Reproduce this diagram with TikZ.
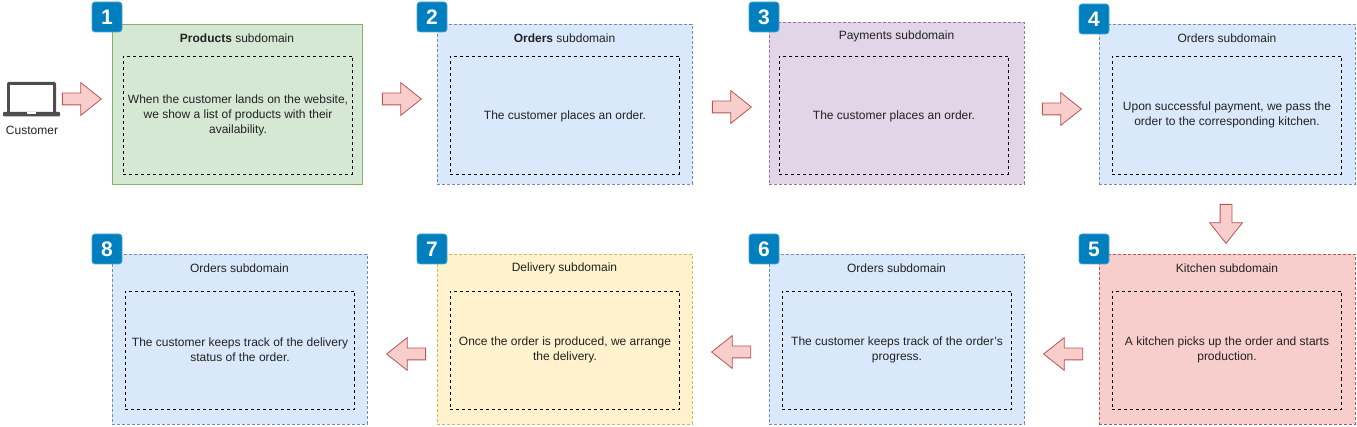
\documentclass[tikz,border=0pt]{standalone}
\usepackage{fontspec}
\setmainfont{Liberation Sans}
\usetikzlibrary{shapes.arrows}

\definecolor{greenfill}{HTML}{D5E8D4}
\definecolor{greenline}{HTML}{82B366}
\definecolor{bluefill}{HTML}{DAE8FC}
\definecolor{blueline}{HTML}{6C8EBF}
\definecolor{purplefill}{HTML}{E1D5E7}
\definecolor{purpleline}{HTML}{9673A6}
\definecolor{yellowfill}{HTML}{FFF2CC}
\definecolor{yellowline}{HTML}{D6B656}
\definecolor{redfill}{HTML}{F8CECC}
\definecolor{redline}{HTML}{B85450}
\definecolor{badgefill}{HTML}{007FBF}
\definecolor{badgeline}{HTML}{4FA6D3}
\definecolor{laptopgray}{HTML}{4D4D4D}
\definecolor{textgray}{HTML}{222222}

\begin{document}
\begin{tikzpicture}[x=1pt,y=-1pt,font=\fontsize{12}{15}\selectfont,text=textgray]
	\tikzset{outerbox/.style={draw,anchor=north west,inner sep=0pt,line width=0.8pt,dash pattern=on 3pt off 2pt}}
	\tikzset{greenbox/.style={outerbox,fill=greenfill,draw=greenline,solid}}
	\tikzset{bluebox/.style={outerbox,fill=bluefill,draw=blueline}}
	\tikzset{purplebox/.style={outerbox,fill=purplefill,draw=purpleline}}
	\tikzset{yellowbox/.style={outerbox,fill=yellowfill,draw=yellowline}}
	\tikzset{redbox/.style={outerbox,fill=redfill,draw=redline}}
	\tikzset{innerbox/.style={draw=black,align=center,inner sep=0pt,line width=0.9pt,dash pattern=on 3pt off 3pt,minimum width=229.5pt,minimum height=118pt,execute at begin node={\rule{0pt}{10.7pt}}}}
	\tikzset{innerlong/.style={innerbox,execute at begin node={\rule{0pt}{12.7pt}}}}
	\tikzset{badge/.style={fill=badgefill,draw=badgeline,line width=0.7pt,rounded corners=3pt,minimum size=30pt,inner sep=0pt,text=white,font=\fontsize{21}{21}\selectfont\bfseries}}
	\tikzset{blockarrow/.style={single arrow,anchor=tip,draw=redline,fill=redfill,line width=0.8pt,minimum height=39pt,minimum width=32pt,inner sep=5.5pt,single arrow head extend=10.5pt,single arrow tip angle=77,single arrow head indent=0pt}}

	\useasboundingbox (0,0) rectangle (1357,427);

	% top row
	\node[greenbox,minimum width=250pt,minimum height=160pt] (products) at (112,24) {};
	\node[bluebox,minimum width=255pt,minimum height=160pt] (ordersA) at (437,24) {};
	\node[purplebox,minimum width=255pt,minimum height=162pt] (payments) at (769,22) {};
	\node[bluebox,minimum width=256pt,minimum height=160pt] (ordersB) at (1099,24) {};

	% bottom row
	\node[redbox,minimum width=256pt,minimum height=170pt] (kitchen) at (1099,254) {};
	\node[bluebox,minimum width=255pt,minimum height=170pt] (ordersC) at (769,254) {};
	\node[yellowbox,minimum width=255pt,minimum height=170pt] (delivery) at (437,254) {};
	\node[bluebox,minimum width=255pt,minimum height=170pt] (ordersD) at (112,254) {};

	% titles
	\node (productsT) at (237,38) {\textbf{Products} subdomain};
	\node (ordersAT) at (564.5,38) {\textbf{Orders} subdomain};
	\node (paymentsT) at (896.5,36) {Payments subdomain};
	\node (ordersBT) at (1227,38) {Orders subdomain};
	\node (kitchenT) at (1227,268) {Kitchen subdomain};
	\node (ordersCT) at (896.5,268) {Orders subdomain};
	\node (deliveryT) at (564.5,268) {Delivery subdomain};
	\node (ordersDT) at (239.5,268) {Orders subdomain};

	% inner text
	\node[innerlong] (productsI) at (238,115) {When the customer lands on the website,\\we show a list of products with their\\availability.};
	\node[innerbox] (ordersAI) at (565,115) {The customer places an order.};
	\node[innerbox] (paymentsI) at (894,115) {The customer places an order.};
	\node[innerlong] (ordersBI) at (1227,115) {Upon successful payment, we pass the\\order to the corresponding kitchen.};
	\node[innerlong] (kitchenI) at (1227,350) {A kitchen picks up the order and starts\\production.};
	\node[innerlong] (ordersCI) at (897,350) {The customer keeps track of the order's\\progress.};
	\node[innerlong] (deliveryI) at (565,350) {Once the order is produced, we arrange\\the delivery.};
	\node[innerlong] (ordersDI) at (240,350) {The customer keeps track of the delivery\\status of the order.};

	% number badges
	\node[badge] (one) at (107,17) {1};
	\node[badge] (two) at (432,17) {2};
	\node[badge] (three) at (764,17) {3};
	\node[badge] (four) at (1094,19) {4};
	\node[badge] (five) at (1094,249) {5};
	\node[badge] (six) at (764,249) {6};
	\node[badge] (seven) at (432,249) {7};
	\node[badge] (eight) at (107,249) {8};

	% arrows
	\node[blockarrow] (arrowA) at (102,99) {};
	\node[blockarrow] (arrowB) at (422,99) {};
	\node[blockarrow] (arrowC) at (752,107) {};
	\node[blockarrow] (arrowD) at (1082,109) {};
	\node[blockarrow,shape border rotate=270] (arrowE) at (1226,244) {};
	\node[blockarrow,shape border rotate=180] (arrowF) at (1043,354) {};
	\node[blockarrow,shape border rotate=180] (arrowG) at (711,352) {};
	\node[blockarrow,shape border rotate=180] (arrowH) at (386,354) {};

	% laptop
	\fill[laptopgray,rounded corners=1.5pt] (7,82) rectangle (56,114);
	\fill[white] (10,85) rectangle (53,112);
	\fill[laptopgray,rounded corners=1pt] (3,112) -- (60,112) -- (60,116.5) -- (3,116.5) -- cycle;
	\fill[white] (27,112.5) rectangle (36,114.5);
	\node (customer) at (32,130) {Customer};
\end{tikzpicture}
\end{document}
